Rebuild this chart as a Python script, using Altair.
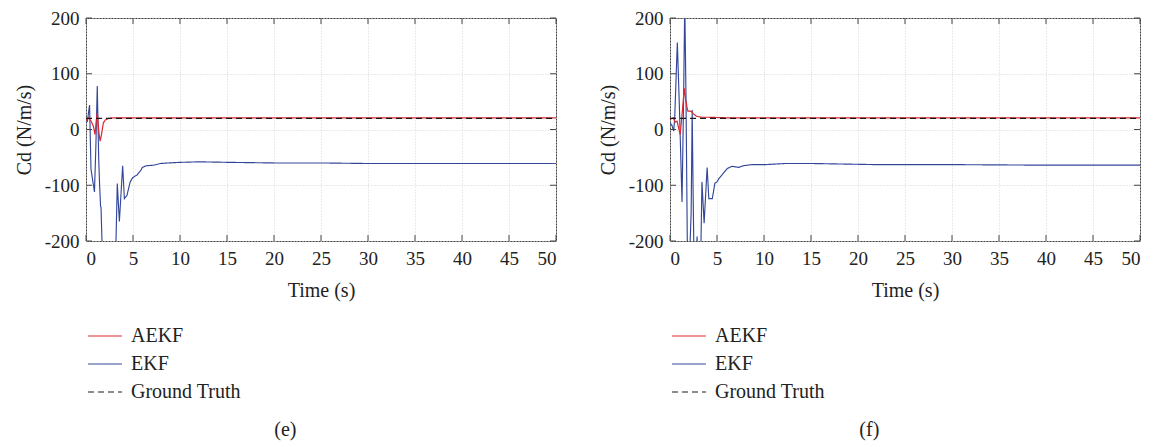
import altair as alt
import pandas as pd

# ---------------- data ----------------
X_TICKS = [0, 5, 10, 15, 20, 25, 30, 35, 40, 45, 50]
Y_TICKS = [-200, -100, 0, 100, 200]
SERIES = ["AEKF", "EKF", "Ground Truth"]

# panel (e)
e_ekf_t = [0, 0.15, 0.38, 0.53, 0.64, 0.9, 1.05, 1.2, 1.35, 1.45, 1.55, 1.6, 1.7, 1.8, 2.2, 2.7, 3.1, 3.19, 3.33, 3.55, 3.9, 4.08,
           4.36, 4.7, 4.9, 5.07, 5.4, 5.8, 6.0, 6.4, 7.2, 7.9, 8.8, 9.9, 12, 15.5, 20, 25, 30, 40, 50]
e_ekf_v = [12, 15, 44, -71, -83, -112, -30, 78, -53, -100, -138, -140, -200, -260, -280, -275, -250, -200, -97, -165, -65, -124,
           -118, -94, -88, -85, -82, -74, -68, -65, -64, -61, -60, -59, -58, -59, -60, -60, -61, -61, -61]
e_aekf_t = [0, 0.3, 0.57, 0.8, 0.96, 1.1, 1.2, 1.35, 1.5, 1.65, 1.85, 2.05, 2.4, 3.0, 5, 50]
e_aekf_v = [16, 21, 14, 5, -9, 16, 30, -2, -21, -9, 12, 17, 20, 21, 21, 21]

# panel (f)
f_ekf_t = [0, 0.2, 0.39, 0.5, 0.78, 1.0, 1.28, 1.45, 1.57, 1.7, 1.84, 2.0, 2.25, 2.36, 2.45, 2.55, 2.75, 2.88, 3.0, 3.25, 3.4,
           3.63, 3.95, 4.13, 4.5, 4.78, 5.0, 5.2, 5.5, 6.1, 6.6, 7.3, 7.8, 8.7, 10.1, 12.3, 15.1, 22, 30, 40, 50]
f_ekf_v = [12, 8, -3, 20, 156, 40, -130, 60, 230, 60, -200, -270, -150, 35, -100, -230, -260, -192, -240, -250, -94,
           -168, -68, -124, -124, -96, -94, -88, -82, -70, -66, -68, -65, -63, -63, -61, -61, -63, -63, -64, -64]
f_aekf_t = [0, 0.35, 0.55, 0.75, 1.08, 1.3, 1.52, 1.65, 1.8, 1.9, 2.1, 2.3, 2.5, 2.8, 3.3, 4, 6, 10, 50]
f_aekf_v = [18, 21, 13, 15, -9, 30, 74, 55, 41, 33, 33, 32, 28, 24, 22, 22, 21, 21, 21]

gt_t = [0, 50]
gt_v = [20, 20]

# ---------------- style ----------------
W, H = 470, 223
FONT = "Liberation Serif"
COLORS = ["#e0262e", "#33479a", "#1a1a1a"]
DASHES = [[1, 0], [1, 0], [6, 4]]
WIDTHS = [1.2, 1.1, 2.0]
LABEL_EXPR = "datum.value < 0 ? '-' + abs(datum.value) : '' + datum.value"


def frame(t, v, name):
    return pd.DataFrame({"t": t, "v": v, "series": name})


def panel(ekf_t, ekf_v, aekf_t, aekf_v, label):
    est = pd.concat([frame(ekf_t, ekf_v, "EKF"), frame(aekf_t, aekf_v, "AEKF")])
    gt = frame(gt_t, gt_v, "Ground Truth")

    x = alt.X("t:Q", scale=alt.Scale(domain=[0, 50], nice=False),
              axis=alt.Axis(values=X_TICKS, title="Time (s)", grid=True, gridDash=[1, 2],
                            gridColor="#d4d4d4", tickSize=0, domain=False, labelPadding=8,
                            titlePadding=12, labelFont=FONT, titleFont=FONT, labelExpr=LABEL_EXPR))
    y = alt.Y("v:Q", scale=alt.Scale(domain=[-200, 200], nice=False),
              axis=alt.Axis(values=Y_TICKS, title="Cd (N/m/s)", grid=True, gridDash=[1, 2],
                            gridColor="#d4d4d4", tickSize=0, domain=False, labelPadding=7,
                            titlePadding=10, labelFont=FONT, titleFont=FONT, labelExpr=LABEL_EXPR))
    color = alt.Color("series:N", scale=alt.Scale(domain=SERIES, range=COLORS),
                      legend=alt.Legend(title=None, orient="none", legendX=1, legendY=300,
                                        direction="vertical", symbolType="stroke",
                                        symbolSize=1150, symbolStrokeWidth=2,
                                        labelFont=FONT, labelFontSize=20, labelColor="#222",
                                        rowPadding=-1.5, labelOffset=8))
    dash = alt.StrokeDash("series:N", scale=alt.Scale(domain=SERIES, range=DASHES), legend=None)
    sw = alt.StrokeWidth("series:N", scale=alt.Scale(domain=SERIES, range=WIDTHS), legend=None)

    lines = alt.Chart(est).mark_line(clip=True).encode(x=x, y=y, color=color, strokeDash=dash,
                                                       strokeWidth=sw, detail="series:N")
    truth = alt.Chart(gt).mark_line(clip=True).encode(x="t:Q", y="v:Q", color="series:N",
                                                      strokeDash="series:N", strokeWidth="series:N")

    xt = pd.DataFrame({"t": X_TICKS})
    yt = pd.DataFrame({"v": Y_TICKS})
    tick_b = alt.Chart(xt).mark_rule(color="#444").encode(x="t:Q", y=alt.value(H), y2=alt.value(H - 6))
    tick_t = alt.Chart(xt).mark_rule(color="#444").encode(x="t:Q", y=alt.value(0), y2=alt.value(6))
    tick_l = alt.Chart(yt).mark_rule(color="#444").encode(y="v:Q", x=alt.value(0), x2=alt.value(6))
    tick_r = alt.Chart(yt).mark_rule(color="#444").encode(y="v:Q", x=alt.value(W - 6), x2=alt.value(W))

    return alt.layer(lines, truth, tick_b, tick_t, tick_l, tick_r).properties(
        width=W, height=H,
        title=alt.TitleParams(text=label, orient="bottom", font=FONT, fontSize=20, frame="bounds",
                              fontWeight="normal", color="#222", offset=18),
    )


left = panel(e_ekf_t, e_ekf_v, e_aekf_t, e_aekf_v, "(e)")
right = panel(f_ekf_t, f_ekf_v, f_aekf_t, f_aekf_v, "(f)")

chart = alt.hconcat(left, right, spacing=40).resolve_scale(
    color="independent", strokeDash="independent", strokeWidth="independent"
).resolve_legend(
    color="independent", strokeDash="independent", strokeWidth="independent"
).configure(
    padding={"left": 5, "top": 0, "right": 0, "bottom": 0}, font=FONT
).configure_view(
    stroke="#444", strokeWidth=1
).configure_axis(
    labelFont=FONT, labelFontSize=19, labelColor="#222",
    titleFont=FONT, titleFontSize=20, titleFontWeight="normal", titleColor="#222",
)

chart.save("out.html", embed_options={"renderer": "svg", "actions": False})
